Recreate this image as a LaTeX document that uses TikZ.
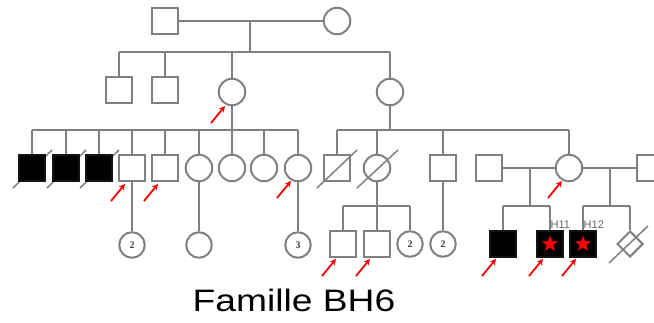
\documentclass[tikz,border=0pt]{standalone}
\usepackage{fontspec}
\setmainfont{Liberation Sans}
\newfontfamily\numfont{Liberation Serif}
\usetikzlibrary{shapes.geometric,arrows.meta,calc}
\definecolor{lg}{RGB}{128,128,128}
\pgfdeclarelayer{bg}
\pgfsetlayers{bg,main}
\begin{document}
\begin{tikzpicture}[x=1pt,y=-1pt,
  ln/.style={draw=lg, line width=2pt},
  sq/.style={rectangle, draw=lg, line width=2pt, fill=white, minimum size=25.5pt, inner sep=0pt},
  ci/.style={circle, draw=lg, line width=2pt, fill=white, minimum size=26.5pt, inner sep=0pt},
  kid/.style={circle, draw=lg, line width=2pt, fill=white, minimum size=25.5pt, inner sep=0pt, font=\numfont\bfseries\fontsize{10}{10}\selectfont, text=black!75},
  aff/.style={fill=black, draw=black!85!lg},
  dia/.style={diamond, draw=lg, line width=2pt, fill=white, minimum width=26pt, minimum height=26pt, inner sep=0pt},
  stargl/.style={star, star points=5, star point ratio=2.4, fill=red, draw=none, minimum size=17pt, inner sep=0pt},
  dead/.style={draw=lg, line width=1.5pt},
  mk/.style={draw=red, line width=1.8pt, -{Stealth[length=6pt,width=6pt]}},
  hlab/.style={font=\fontsize{11}{11}\selectfont, text=lg!80!black, inner sep=0.5pt, anchor=south west}
]
\useasboundingbox (0,0) rectangle (654,323);
\begin{scope}
\clip (0,0) rectangle (654,323);
% ---------- Generation I
\node[sq] (m1) at (165,21) {};
\node[ci] (f1) at (337,21) {};
\coordinate (d1) at (250,21);
\coordinate (s1) at (250,52);
\draw[ln] (m1) -- (f1);
\draw[ln] (d1) -- (s1);
% ---------- Generation II
\node[sq] (c21) at (119,90) {};
\node[sq] (c22) at (165,90) {};
\node[ci] (c23) at (232,92) {};
\node[ci] (c24) at (390,92) {};
\draw[ln] (c21 |- s1) -- (c24 |- s1);
\foreach \n in {c21,c22,c23,c24} \draw[ln] (\n |- s1) -- (\n);
% ---------- Generation III (left)
\coordinate (s2) at (232,130);
\node[sq,aff] (c31) at (32,168) {};
\node[sq,aff] (c32) at (66,168) {};
\node[sq,aff] (c33) at (99,168) {};
\node[sq] (c34) at (132,168) {};
\node[sq] (c35) at (165,168) {};
\node[ci] (c36) at (199,168) {};
\node[ci] (c37) at (232,168) {};
\node[ci] (c38) at (264,168) {};
\node[ci] (c39) at (298,168) {};
\draw[ln] (c23) -- (s2);
\draw[ln] (c31 |- s2) -- (c39 |- s2);
\foreach \n in {c31,c32,c33,c34,c35,c36,c37,c38,c39} \draw[ln] (\n |- s2) -- (\n);
\begin{pgfonlayer}{bg}
\foreach \n in {c31,c32,c33} \draw[dead] ($(\n)+(-19,20)$) -- ($(\n)+(20,-18)$);
\end{pgfonlayer}
% ---------- Generation III (right)
\coordinate (s3) at (390,130);
\node[sq] (r1) at (337,168) {};
\node[ci] (r2) at (377,168) {};
\node[sq] (r3) at (443,168) {};
\node[sq] (sp1) at (489,168) {};
\node[ci] (r4) at (569,168) {};
\node[sq] (sp2) at (650,168) {};
\draw[ln] (c24) -- (s3);
\draw[ln] (r1 |- s3) -- (r4 |- s3);
\foreach \n in {r1,r2,r3,r4} \draw[ln] (\n |- s3) -- (\n);
\draw[dead] ($(r1)+(-20,20)$) -- ($(r1)+(20,-18)$);
\draw[dead] ($(r2)+(-20,20)$) -- ($(r2)+(21,-18)$);
% ---------- Generation IV (left)
\node[kid] (k1) at (132,245) {2};
\node[kid] (k2) at (199,245) {};
\node[kid] (k3) at (298,245) {3};
\draw[ln] (c34) -- (k1);
\draw[ln] (c36) -- (k2);
\draw[ln] (c39) -- (k3);
% ---------- Generation IV (right)
\coordinate (s4) at (377,206);
\node[sq] (q1) at (343,244) {};
\node[sq] (q2) at (377,244) {};
\node[kid] (q3) at (410,244) {2};
\node[kid] (q4) at (443,244) {2};
\draw[ln] (r2) -- (s4);
\draw[ln] (q1 |- s4) -- (q3 |- s4);
\foreach \n in {q1,q2,q3} \draw[ln] (\n |- s4) -- (\n);
\draw[ln] (r3) -- (q4);
% marriages of r4
\coordinate (u1) at (530,168);
\coordinate (s5) at (530,206);
\coordinate (u2) at (610,168);
\coordinate (s6) at (610,206);
\draw[ln] (sp1) -- (r4);
\draw[ln] (r4) -- (sp2);
\draw[ln] (u1) -- (s5);
\draw[ln] (u2) -- (s6);
\node[sq,aff] (t1) at (503,244) {};
\node[sq,aff] (t2) at (550,244) {};
\node[sq,aff] (t3) at (583,244) {};
\node[dia] (t4) at (630,244) {};
\node[stargl] (st2) at (t2) {};
\node[stargl] (st3) at (t3) {};
\draw[ln] (t1 |- s5) -- (t2 |- s5);
\foreach \n in {t1,t2} \draw[ln] (\n |- s5) -- (\n);
\draw[ln] (t3 |- s6) -- (t4 |- s6);
\foreach \n in {t3,t4} \draw[ln] (\n |- s6) -- (\n);
\draw[dead] ($(t4)+(-21,19)$) -- ($(t4)+(18,-18)$);
\node[hlab] (h11) at ($(t2.north)+(0,-1.5)$) {H11};
\node[hlab] (h12) at ($(t3.north)+(0,-1.5)$) {H12};
% ---------- red markers
\foreach \n/\dy in {c23/14,c34/16,c35/16,c39/13,r4/13,q1/15,q2/15,t1/15,t2/15,t3/15}
  \draw[mk] ($(\n)+(-21,\dy+17)$) -- ($(\n)+(-7,\dy)$);
% ---------- title
\node (title) at (294,300) {\scalebox{1.2}[1]{\fontsize{31}{34}\selectfont Famille BH6}};
\end{scope}
\end{tikzpicture}
\end{document}
